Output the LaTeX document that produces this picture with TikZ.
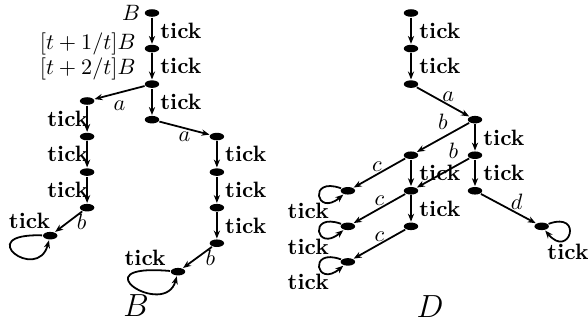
\documentclass[tikz,border=0pt]{standalone}
\usepackage{tikz}
\usetikzlibrary{arrows.meta}
\usetikzlibrary{positioning}
\usetikzlibrary{shapes.geometric}

\tikzset{
  dot/.style={ellipse,fill,inner sep=0pt,minimum width=6.5pt,minimum height=3.4pt},
  tk/.style={font=\bfseries},
}

\begin{document}
\begin{tikzpicture}[x=0.45pt,y=-0.45pt,>={Stealth[length=3.6pt,width=2.8pt]},thick,node distance=16pt,on grid,auto]
  \useasboundingbox (0,0) rectangle (588,327);
  % process B
  \node[dot,label={[xshift=2pt]left:$B$}]        (b0) at (152,13)               {};
  \node[dot,label={[yshift=2.2pt]left:$[t+1/t]B$}] (b1)  [below=of b0]            {};
  \node[dot,label={[yshift=7pt]left:$[t+2/t]B$}]   (b2)  [below=of b1]            {};
  \node[dot]                                     (b3)  [below=of b2]              {};
  \node[dot]                                     (bl1) [below left=7.6pt and 29.2pt of b2] {};
  \node[dot]                                     (bl2) [below=of bl1]             {};
  \node[dot]                                     (bl3) [below=of bl2]             {};
  \node[dot]                                     (bl4) [below=of bl3]             {};
  \node[dot,label={[tk,xshift=5.5pt,yshift=-2.5pt]above left:tick}] (bl5) [below left=12.6pt and 16.6pt of bl4] {};
  \node[dot]                                     (br1) [below right=7.6pt and 29.2pt of b3] {};
  \node[dot]                                     (br2) [below=of br1]             {};
  \node[dot]                                     (br3) [below=of br2]             {};
  \node[dot]                                     (br4) [below=of br3]             {};
  \node[dot,label={[tk,yshift=-3pt]above left:tick}] (br5) [below left=12.8pt and 17.5pt of br4] {};
  \node[font=\Large]                             (bname) at (136,306)           {$B$};

  \path[->]
    (b0)  edge node[tk] {tick} (b1)
    (b1)  edge node[tk] {tick} (b2)
    (b2)  edge node[tk] {tick} (b3)
          edge node[below] {$a$} (bl1)
    (b3)  edge node[below,inner sep=1.5pt] {$a$} (br1)
    (bl1) edge node[tk,swap,inner sep=-1pt] {tick} (bl2)
    (bl2) edge node[tk,swap,inner sep=-1pt] {tick} (bl3)
    (bl3) edge node[tk,swap,inner sep=-1pt] {tick} (bl4)
    (bl4) edge node[right] {$b$} (bl5)
    (bl5) edge[out=178,in=255,out distance=32pt,in distance=20pt] (bl5)
    (br1) edge node[tk] {tick} (br2)
    (br2) edge node[tk] {tick} (br3)
    (br3) edge node[tk] {tick} (br4)
    (br4) edge node[right] {$b$} (br5)
    (br5) edge[out=175,in=255,out distance=42pt,in distance=20pt] (br5)
  ;

  % process D
  \node[dot]                                     (d0) at (411,13)              {};
  \node[dot]                                     (d1) [below=of d0]            {};
  \node[dot]                                     (d2) [below=of d1]            {};
  \node[dot]                                     (d3) [below right=16pt and 28.8pt of d2] {};
  \node[dot]                                     (d4) [below left=16pt and 28.8pt of d3]  {};
  \node[dot]                                     (d5) [below=of d3]            {};
  \node[dot]                                     (d6) [below=of d5]            {};
  \node[dot,label={[tk,xshift=-3pt,yshift=-2.6pt]below right:tick}] (d7) [below right=16pt and 30pt of d6] {};
  \node[dot]                                     (d8) [below=of d4]            {};
  \node[dot]                                     (d9) [below=of d8]            {};
  \node[dot,label={[tk,xshift=-3pt]below left:tick}] (c1) [below left=16pt and 28.4pt of d4] {};
  \node[dot,label={[tk,xshift=-3pt]below left:tick}] (c2) [below left=16pt and 28.4pt of d8] {};
  \node[dot,label={[tk,xshift=-3pt]below left:tick}] (c3) [below left=16pt and 28.4pt of d9] {};
  \node[font=\Large]                             (dname) at (430,307)          {$D$};

  \path[->]
    (d0) edge node[tk] {tick} (d1)
    (d1) edge node[tk] {tick} (d2)
    (d2) edge node[above,pos=0.6,inner sep=1pt] {$a$} (d3)
    (d3) edge node[above] {$b$} (d4)
         edge node[tk] {tick} (d5)
    (d5) edge node[above,pos=0.3] {$b$} (d8)
         edge node[tk] {tick} (d6)
    (d6) edge node[above,pos=0.65,inner sep=1pt] {$d$} (d7)
    (d4) edge node[tk] {tick} (d8)
         edge node[above,pos=0.55,inner sep=1pt] {$c$} (c1)
    (d8) edge node[tk] {tick} (d9)
         edge node[above,inner sep=1pt] {$c$} (c2)
    (d9) edge node[above,inner sep=1pt] {$c$} (c3)
    (c1) edge[out=160,in=220,min distance=16pt] (c1)
    (c2) edge[out=160,in=220,min distance=16pt] (c2)
    (c3) edge[out=160,in=220,min distance=16pt] (c3)
    (d7) edge[out=20,in=-50,min distance=17pt] (d7)
  ;
\end{tikzpicture}
\end{document}
